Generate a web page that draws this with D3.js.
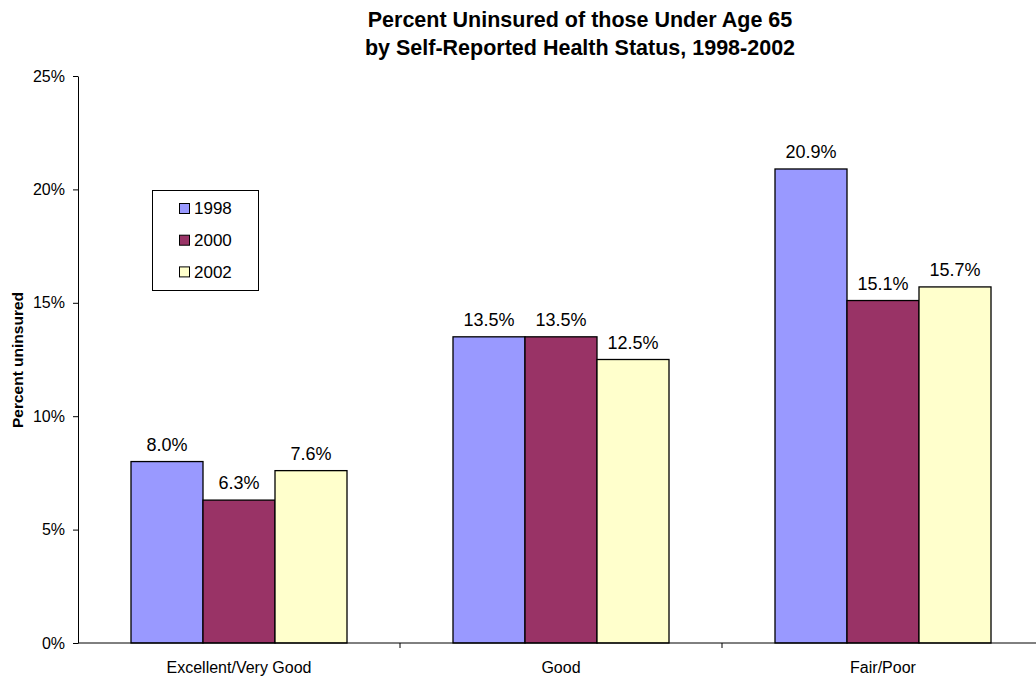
<!DOCTYPE html>
<html><head><meta charset="utf-8">
<script src="https://cdn.jsdelivr.net/npm/d3@7"></script>
<style>body{margin:0;background:#fff;} text{font-family:"Liberation Sans",Arial,sans-serif;}</style>
</head><body><svg id="c" width="1036" height="677"></svg>
<script>
const categories = ["Excellent/Very Good", "Good", "Fair/Poor"];
const years = ["1998", "2000", "2002"];
const values1998 = [8.0, 13.5, 20.9];
const values2000 = [6.3, 13.5, 15.1];
const values2002 = [7.6, 12.5, 15.7];
const colors = ["#9999ff", "#993366", "#ffffcc"];
const yTicks = [0, 5, 10, 15, 20, 25];
const series = [values1998, values2000, values2002];

(function () {
const svg = d3.select("#c");
const left = 78, plotTop = 76, bottom = 643, bandW = 322;
const x = d3.scaleBand().domain(categories).range([left, left + bandW * 3]).paddingInner(0).paddingOuter(0);
const inner = d3.scaleBand().domain(years).range([53, bandW - 53]);
const y = d3.scaleLinear().domain([0, 25]).range([bottom, plotTop]);

// bars
categories.forEach((c, ci) => {
  years.forEach((yr, si) => {
    const v = series[si][ci];
    const bx = x(c) + inner(yr);
    svg.append("rect").attr("x", bx).attr("y", y(v)).attr("width", inner.bandwidth()).attr("height", y(0) - y(v))
      .attr("fill", colors[si]).attr("stroke", "#000").attr("stroke-width", 1.3);
    svg.append("text").attr("x", bx + inner.bandwidth() / 2).attr("y", y(v) - 11)
      .attr("text-anchor", "middle").attr("font-size", 18).text(v.toFixed(1) + "%");
  });
});

// y axis
const yAxis = svg.append("g").attr("transform", `translate(${left},0)`)
  .call(d3.axisLeft(y).tickValues(yTicks).tickFormat(d => d + "%").tickSize(5).tickSizeOuter(0));
yAxis.select(".domain").attr("stroke", "#000");
yAxis.selectAll("text").attr("font-size", 16).attr("font-family", "Liberation Sans, Arial, sans-serif").attr("fill", "#000").attr("x", -13);
yAxis.selectAll("line").attr("stroke", "#000");

// x axis
svg.append("line").attr("x1", left).attr("x2", 1036).attr("y1", bottom).attr("y2", bottom).attr("stroke", "#000");
[1, 2].forEach(i => {
  const tx = x(categories[i]);
  svg.append("line").attr("x1", tx).attr("x2", tx).attr("y1", bottom).attr("y2", bottom + 5).attr("stroke", "#000");
});
categories.forEach(c => {
  svg.append("text").attr("x", x(c) + bandW / 2).attr("y", 673).attr("text-anchor", "middle")
    .attr("font-size", 16).text(c);
});

// title
svg.append("text").attr("x", 580).attr("y", 27).attr("text-anchor", "middle").attr("font-size", 21.5).attr("font-weight", "bold").text("Percent Uninsured of those Under Age 65");
svg.append("text").attr("x", 580).attr("y", 55).attr("text-anchor", "middle").attr("font-size", 21.5).attr("font-weight", "bold").text("by Self-Reported Health Status, 1998-2002");

// y label
svg.append("text").attr("transform", "translate(23,360) rotate(-90)").attr("text-anchor", "middle")
  .attr("font-size", 15.5).attr("font-weight", "bold").text("Percent uninsured");

// legend
const lg = svg.append("g");
lg.append("rect").attr("x", 152.5).attr("y", 190.5).attr("width", 106).attr("height", 100).attr("fill", "#fff").attr("stroke", "#000");
years.forEach((yr, i) => {
  const sy = 203.5 + i * 31.7;
  lg.append("rect").attr("x", 179.5).attr("y", sy).attr("width", 10).attr("height", 10).attr("fill", colors[i]).attr("stroke", "#000");
  lg.append("text").attr("x", 194).attr("y", sy + 10.7).attr("font-size", 17).text(yr);
});
})();
</script></body></html>
